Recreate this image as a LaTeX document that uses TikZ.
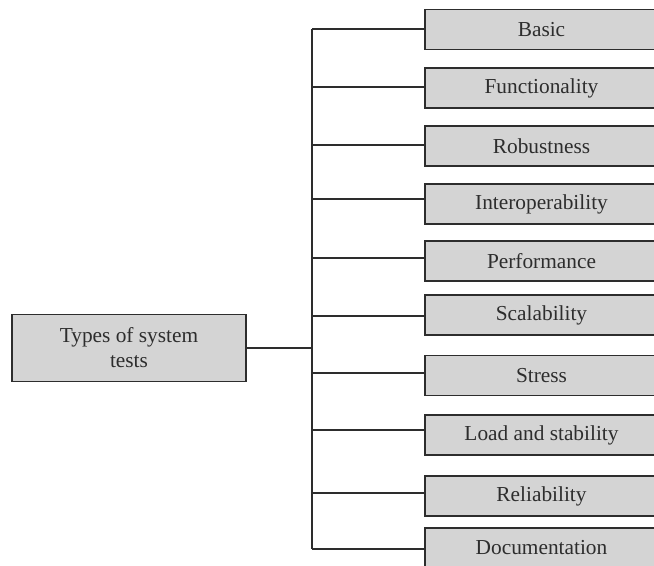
\documentclass[tikz,border=0pt]{standalone}
\usepackage{fontspec}
\setmainfont{Liberation Serif}
\definecolor{boxgray}{RGB}{212,212,212}
\definecolor{inkgray}{RGB}{45,45,45}

\tikzset{
  testbox/.style={fill=boxgray, anchor=west, outer sep=0pt,
    minimum width=174.75pt, minimum height=30pt, inner sep=0pt,
    text=inkgray, font=\fontsize{16}{19}\selectfont},
  rootbox/.style={draw=inkgray, fill=boxgray, line width=1.1pt,
    minimum width=175.5pt, minimum height=50pt, inner sep=0pt, align=center,
    text=inkgray, font=\fontsize{16}{18.75}\selectfont},
  link/.style={draw=inkgray, line width=1.1pt}
}

% (name, box y, branch y, text)
% the boxes run on past the right edge of the page
\newcommand{\testbox}[4]{
    \node[testbox] (#1) at (425,#2) {#4};
    \draw[link] (#1.north east) -- (#1.north west) -- (#1.south west) -- (#1.south east);
    \coordinate (t#1) at (312,#3);
    \draw[link] (t#1) -- (t#1 -| #1.west);
}

\begin{document}
\begin{tikzpicture}[x=0.75pt, y=-0.75pt]

  \useasboundingbox (0,0) rectangle (654,565);

  \node[rootbox] (root) at (129,348) {Types of system\\tests};

  \testbox{basic}{29.5}{29}{Basic}
  \testbox{func}{88}{87}{Functionality}
  \testbox{robust}{146}{145}{Robustness}
  \testbox{interop}{204}{199}{Interoperability}
  \testbox{perf}{261}{258}{Performance}
  \testbox{scal}{315}{316}{Scalability}
  \testbox{stress}{375.5}{373}{Stress}
  \testbox{load}{435}{430}{Load and stability}
  \testbox{reliab}{496}{493}{Reliability}
  \testbox{doc}{548}{549}{Documentation}

  % trunk
  \coordinate (troot) at (312,348);
  \draw[link] (tbasic) -- (tdoc);
  \draw[link] (root.east) -- (troot);

\end{tikzpicture}
\end{document}
